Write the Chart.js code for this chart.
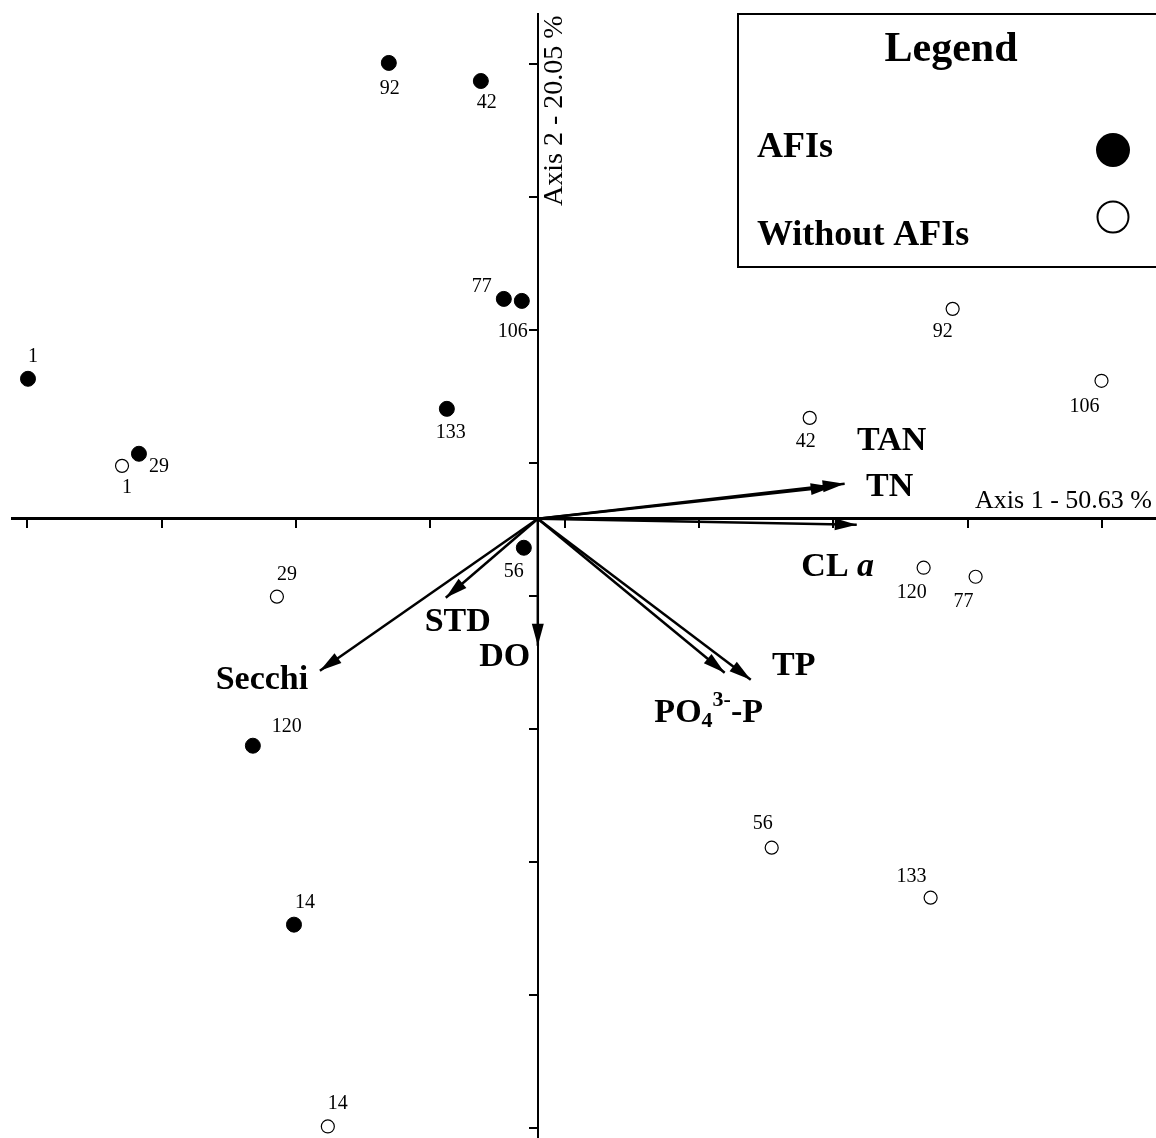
<!DOCTYPE html>
<html>
<head>
<meta charset="utf-8">
<script src="https://cdn.jsdelivr.net/npm/chart.js@4.4.1/dist/chart.umd.min.js"></script>
<style>
html, body { margin: 0; padding: 0; background: #fff; overflow: hidden; }
#wrap { width: 1156px; height: 1138px; overflow: hidden; position: relative; }
#biplot { position: absolute; left: 0; top: 0; }
</style>
</head>
<body>
<div id="wrap"><canvas id="biplot" width="1164" height="1146"></canvas></div>
<script>
// amostras com AFIs (pontos cheios)
const afiLabels = ['1', '29', '92', '42', '77', '106', '133', '56', '120', '14'];
const afiX = [-3.795, -2.969, -1.109, -0.424, -0.253, -0.119, -0.677, -0.104, -2.121, -1.815];
const afiY = [1.053, 0.489, 3.429, 3.293, 1.654, 1.639, 0.827, -0.218, -1.707, -3.053];

// amostras sem AFIs (pontos vazios)
const semLabels = ['1', '29', '14', '42', '92', '106', '120', '77', '56', '133'];
const semX = [-3.095, -1.942, -1.563, 2.024, 3.088, 4.196, 2.872, 3.259, 1.741, 2.924];
const semY = [0.398, -0.586, -4.571, 0.759, 1.579, 1.038, -0.368, -0.436, -2.474, -2.850];

// variaveis ambientais (setas)
const varNames = ['TAN', 'TN', 'CL a', 'TP', 'PO4', 'DO', 'STD', 'Secchi'];
const varX = [2.284, 2.195, 2.374, 1.585, 1.391, 0, -0.685, -1.622];
const varY = [0.263, 0.241, -0.045, -1.211, -1.158, -0.955, -0.594, -1.143];

// marcas dos eixos
const xTicks = [-3.8, -2.8, -1.8, -0.8, 0.2, 1.2, 2.2, 3.2, 4.2];
const yTicks = [3.42, 2.42, 1.42, 0.42, -0.58, -1.58, -2.58, -3.58, -4.58];

const axisTitleX = 'Axis 1 - 50.63 %';
const axisTitleY = 'Axis 2 - 20.05 %';
const legendTitle = 'Legend';
const legendItems = ['AFIs', 'Without AFIs'];

// deslocamento dos rotulos (px) em relacao ao ponto
const afiLabelOffset = {
    '1': [5, -22], '29': [20, 13], '92': [1, 26], '42': [6, 22], '77': [-22, -12],
    '106': [-9, 31], '133': [4, 24], '56': [-10, 24], '120': [34, -19], '14': [11, -22]
};
const semLabelOffset = {
    '1': [5, 22], '29': [10, -22], '14': [10, -23], '42': [-4, 24], '92': [-10, 23],
    '106': [-17, 26], '120': [-12, 25], '77': [-12, 25], '56': [-9, -24], '133': [-19, -21]
};
const varLabelOffset = {
    'TAN': [47, -43], 'TN': [57, 0], 'CL a': [-19, 42], 'TP': [43, -14],
    'PO4': [-16, 40], 'DO': [-33, 11], 'STD': [12, 24], 'Secchi': [-58, 9]
};

const SERIF = '"Liberation Serif", "Times New Roman", serif';
const LARG = 1156; // largura visivel

function toPoints(xs, ys) {
    return xs.map((x, i) => ({ x: x, y: ys[i] }));
}

function escreve(ctx, s, x, y, font, align) {
    ctx.font = font;
    ctx.textAlign = align || 'center';
    ctx.textBaseline = 'middle';
    ctx.fillText(s, x, y);
}

// setas: linhas via datasets, cabecas desenhadas aqui
const setasPlugin = {
    id: 'setas',
    afterDatasetsDraw(chart) {
        const ctx = chart.ctx;
        const sx = chart.scales.x, sy = chart.scales.y;
        const x0 = sx.getPixelForValue(0), y0 = sy.getPixelForValue(0);
        ctx.save();
        ctx.fillStyle = '#000';
        varNames.forEach((nome, i) => {
            const x1 = sx.getPixelForValue(varX[i]);
            const y1 = sy.getPixelForValue(varY[i]);
            const ang = Math.atan2(y1 - y0, x1 - x0);
            const len = 22, half = 6;
            ctx.beginPath();
            ctx.moveTo(x1, y1);
            ctx.lineTo(x1 - len * Math.cos(ang) + half * Math.sin(ang), y1 - len * Math.sin(ang) - half * Math.cos(ang));
            ctx.lineTo(x1 - len * Math.cos(ang) - half * Math.sin(ang), y1 - len * Math.sin(ang) + half * Math.cos(ang));
            ctx.closePath();
            ctx.fill();
        });

        // nomes das variaveis
        const fb = 'bold 34px ' + SERIF;
        varNames.forEach((nome, i) => {
            const off = varLabelOffset[nome];
            const cx = sx.getPixelForValue(varX[i]) + off[0];
            const cy = sy.getPixelForValue(varY[i]) + off[1];
            if (nome === 'CL a') {
                ctx.font = fb;
                const w1 = ctx.measureText('CL ').width;
                ctx.font = 'italic bold 34px ' + SERIF;
                const w2 = ctx.measureText('a').width;
                const left = cx - (w1 + w2) / 2;
                escreve(ctx, 'CL ', left, cy, fb, 'left');
                escreve(ctx, 'a', left + w1, cy, 'italic bold 34px ' + SERIF, 'left');
            } else if (nome === 'PO4') {
                const fs = 'bold 22px ' + SERIF;
                ctx.font = fb;
                const wPO = ctx.measureText('PO').width;
                const wP = ctx.measureText('-P').width;
                ctx.font = fs;
                const w4 = ctx.measureText('4').width;
                const w3 = ctx.measureText('3-').width;
                const left = cx - (wPO + w4 + w3 + wP) / 2;
                escreve(ctx, 'PO', left, cy, fb, 'left');
                escreve(ctx, '4', left + wPO, cy + 9, fs, 'left');
                escreve(ctx, '3-', left + wPO + w4, cy - 12, fs, 'left');
                escreve(ctx, '-P', left + wPO + w4 + w3, cy, fb, 'left');
            } else {
                escreve(ctx, nome, cx, cy, fb, 'center');
            }
        });
        ctx.restore();
    }
};

const rotulosPlugin = {
    id: 'rotulos',
    afterDatasetsDraw(chart) {
        const ctx = chart.ctx;
        ctx.save();
        ctx.fillStyle = '#000';
        const f = '20px ' + SERIF;
        const grupos = [[0, afiLabels, afiLabelOffset], [1, semLabels, semLabelOffset]];
        grupos.forEach(([idx, labels, offs]) => {
            const meta = chart.getDatasetMeta(idx);
            meta.data.forEach((el, i) => {
                const off = offs[labels[i]];
                escreve(ctx, labels[i], el.x + off[0], el.y + off[1], f, 'center');
            });
        });

        // titulos dos eixos
        const fa = '26px ' + SERIF;
        const sx = chart.scales.x, sy = chart.scales.y;
        escreve(ctx, axisTitleX, LARG - 4, sy.getPixelForValue(0) - 18, fa, 'right');
        ctx.translate(sx.getPixelForValue(0) + 17, chart.chartArea.top + 192);
        ctx.rotate(-Math.PI / 2);
        escreve(ctx, axisTitleY, 0, 0, '28px ' + SERIF, 'left');
        ctx.restore();
    }
};

const legendaPlugin = {
    id: 'legendaCaixa',
    afterDraw(chart) {
        const ctx = chart.ctx;
        ctx.save();
        ctx.strokeStyle = '#000';
        ctx.lineWidth = 2;
        ctx.strokeRect(738, 14, 440, 253);
        ctx.fillStyle = '#000';
        escreve(ctx, legendTitle, 951, 50, 'bold 42px ' + SERIF, 'center');
        escreve(ctx, legendItems[0], 757, 148, 'bold 36px ' + SERIF, 'left');
        escreve(ctx, legendItems[1], 757, 236, 'bold 36px ' + SERIF, 'left');
        ctx.beginPath();
        ctx.arc(1113, 150, 17, 0, Math.PI * 2);
        ctx.fill();
        ctx.beginPath();
        ctx.arc(1113, 217, 15.5, 0, Math.PI * 2);
        ctx.fillStyle = '#fff';
        ctx.fill();
        ctx.lineWidth = 2;
        ctx.stroke();
        ctx.restore();
    }
};

const setasDatasets = varNames.map((nome, i) => ({
    label: nome,
    data: [{ x: 0, y: 0 }, { x: varX[i], y: varY[i] }],
    showLine: true,
    borderColor: '#000',
    borderWidth: 2.5,
    pointRadius: 0,
    fill: false
}));

new Chart(document.getElementById('biplot'), {
    type: 'scatter',
    data: {
        datasets: [
            {
                label: legendItems[0],
                data: toPoints(afiX, afiY),
                pointRadius: 7.5,
                backgroundColor: '#000',
                borderColor: '#000',
                borderWidth: 1
            },
            {
                label: legendItems[1],
                data: toPoints(semX, semY),
                pointRadius: 6.5,
                backgroundColor: '#fff',
                borderColor: '#000',
                borderWidth: 1.2
            },
            ...setasDatasets
        ]
    },
    options: {
        responsive: false,
        animation: false,
        events: [],
        layout: { padding: { left: 12, top: 14, right: 0, bottom: 0 } },
        scales: {
            x: {
                type: 'linear',
                position: { y: 0 },
                min: -3.914,
                max: 4.598,
                afterBuildTicks: s => { s.ticks = xTicks.map(v => ({ value: v })); },
                ticks: { display: false },
                grid: { drawOnChartArea: false, drawTicks: true, tickLength: 8, color: '#000', lineWidth: 2 },
                border: { color: '#000', width: 3 }
            },
            y: {
                type: 'linear',
                position: { x: 0 },
                min: -4.654,
                max: 3.797,
                afterBuildTicks: s => { s.ticks = yTicks.map(v => ({ value: v })); },
                ticks: { display: false },
                grid: { drawOnChartArea: false, drawTicks: true, tickLength: 8, color: '#000', lineWidth: 2 },
                border: { color: '#000', width: 2 }
            }
        },
        plugins: {
            legend: { display: false },
            tooltip: { enabled: false }
        }
    },
    plugins: [setasPlugin, rotulosPlugin, legendaPlugin]
});
</script>
</body>
</html>
